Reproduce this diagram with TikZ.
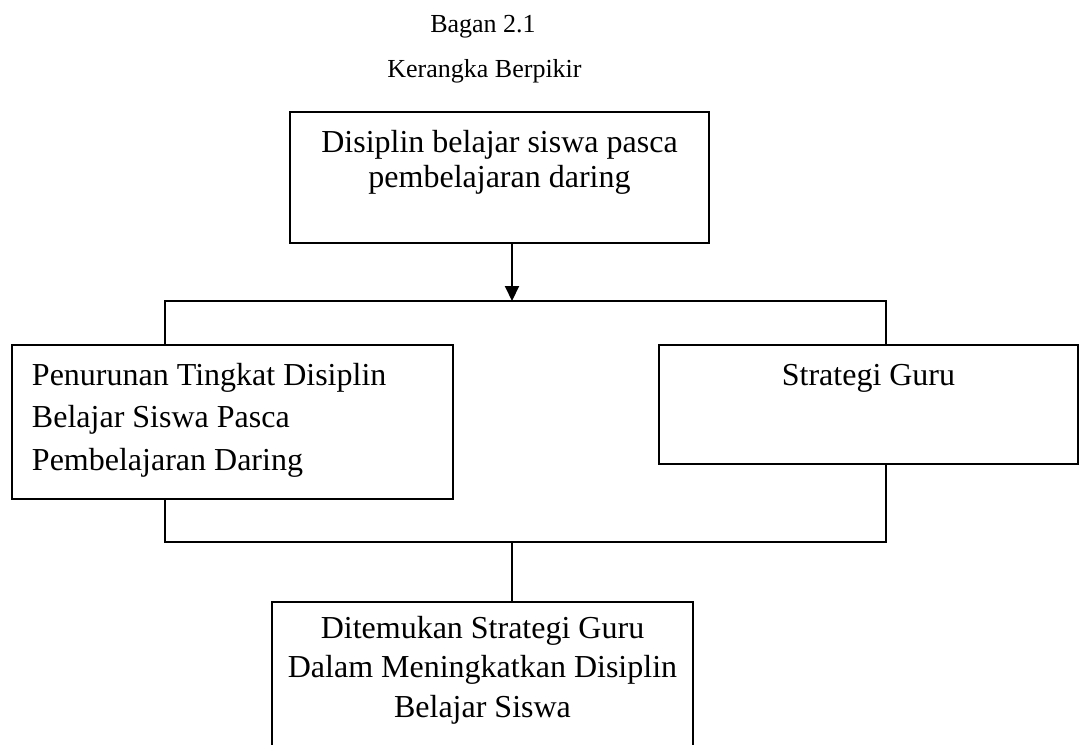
\documentclass[tikz,border=0pt]{standalone}
\usepackage{fontspec}
\setmainfont{Liberation Serif}
\usetikzlibrary{arrows.meta,calc}
% #1 width, #2 height, #3 gap above first line, #4 baselineskip, #5 alignment, #6 text
\newcommand{\boxpar}[6]{%
  \parbox[b][#2][t]{#1}{\fontsize{32}{#4}\selectfont #5\vspace*{#3}\strut #6}}
\tikzset{
  boxnode/.style={draw, line width=1.4pt, inner sep=0pt, outer sep=0pt},
  link/.style={line width=1.4pt},
  arrowlink/.style={line width=2pt, -{Triangle[length=15pt,width=14pt]}},
  titletext/.style={font=\fontsize{26}{30}\selectfont, anchor=base, inner sep=0pt}
}
\begin{document}
\begin{tikzpicture}[x=1pt,y=-1pt]
\useasboundingbox (0,0) rectangle (1083,744);
\clip (0,0) rectangle (1083,744);
\fill[white] (0,0) rectangle (1083,744);

% titles
\node[titletext] (t1) at (483,32) {Bagan 2.1};
\node[titletext] (t2) at (484.5,77) {Kerangka Berpikir};

% boxes
\node[boxnode] (top) at (499.5,177.5)
  {\boxpar{419pt}{131pt}{15.5pt}{35pt}{\centering}{Disiplin belajar siswa pasca\\pembelajaran daring}};
\node[boxnode] (left) at (232.5,422)
  {\boxpar{441pt}{154pt}{10.25pt}{42.5pt}{\raggedright\leftskip=20pt}{Penurunan Tingkat Disiplin\\Belajar Siswa Pasca\\Pembelajaran Daring}};
\node[boxnode] (right) at (868.5,404.5)
  {\boxpar{419pt}{119pt}{15.5pt}{35pt}{\centering}{Strategi Guru}};
\node[boxnode] (bot) at (482.5,681)
  {\boxpar{421pt}{158pt}{8.35pt}{39.5pt}{\centering}{Ditemukan Strategi Guru\\Dalam Meningkatkan Disiplin\\Belajar Siswa}};

% junction points
\coordinate (j1) at (512,301);
\coordinate (tl) at (165,301);
\coordinate (tr) at (886,301);
\coordinate (bl) at (165,542);
\coordinate (br) at (886,542);
\coordinate (j2) at (512,542);

% connectors
\draw[arrowlink] (top.south -| j1) -- (j1);
\draw[link] (left.north -| tl) -- (tl) -- (tr) -- (right.north -| tr);
\draw[link] (left.south -| bl) -- (bl) -- (br) -- (right.south -| br);
\draw[link] (j2) -- (bot.north -| j2);
\end{tikzpicture}
\end{document}
